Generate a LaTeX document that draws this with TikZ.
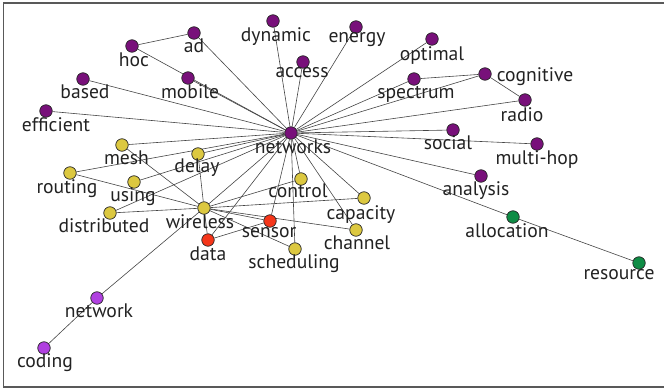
\documentclass[tikz,border=0pt]{standalone}
\usepackage{fontspec}
\setmainfont{PT Sans}
\usetikzlibrary{backgrounds}
\definecolor{cpur}{HTML}{78107A}
\definecolor{cyel}{HTML}{DCC840}
\definecolor{cred}{HTML}{F5361A}
\definecolor{cvio}{HTML}{B040E0}
\definecolor{cgrn}{HTML}{0F8C45}
\definecolor{cedge}{HTML}{444444}
\definecolor{ctext}{HTML}{222222}
\tikzset{
  vtx/.style={circle, draw=black!85, line width=0.7pt, minimum size=12.5pt, inner sep=0pt},
  pur/.style={vtx, fill=cpur},
  yel/.style={vtx, fill=cyel},
  red/.style={vtx, fill=cred},
  vio/.style={vtx, fill=cvio},
  grn/.style={vtx, fill=cgrn},
  lbl/.style={anchor=base, inner sep=0pt, text=ctext, font=\fontsize{19.6}{22}\selectfont},
  edge/.style={draw=cedge, line width=0.6pt},
}
\begin{document}
\begin{tikzpicture}[x=1pt, y=-1pt]
\useasboundingbox (0,0) rectangle (664,390);
\draw[gray!70!black, line width=1.2pt] (3.5,3) rectangle (666,387);

% vertices
\node[pur] (networks) at (291,133) {};
\node[pur] (dynamic) at (273,21) {};
\node[pur] (ad) at (194,33) {};
\node[pur] (hoc) at (132,46) {};
\node[pur] (access) at (303,62) {};
\node[pur] (based) at (83,79) {};
\node[pur] (mobile) at (188,78) {};
\node[pur] (efficient) at (46,111) {};
\node[pur] (energy) at (356,27) {};
\node[pur] (optimal) at (432,39) {};
\node[pur] (spectrum) at (414,79) {};
\node[pur] (cognitive) at (485,74) {};
\node[pur] (radio) at (525,100) {};
\node[pur] (social) at (453,130) {};
\node[pur] (multihop) at (537,144) {};
\node[pur] (analysis) at (481,176) {};

\node[yel] (mesh) at (122,145) {};
\node[yel] (delay) at (198,154) {};
\node[yel] (routing) at (70,173) {};
\node[yel] (using) at (134,182) {};
\node[yel] (control) at (301,179) {};
\node[yel] (distributed) at (110,213) {};
\node[yel] (wireless) at (204,208) {};
\node[yel] (capacity) at (364,198) {};
\node[yel] (channel) at (356,230) {};
\node[yel] (scheduling) at (295,249) {};

\node[red] (sensor) at (270,221) {};
\node[red] (data) at (208,240) {};

\node[vio] (network) at (97,298) {};
\node[vio] (coding) at (44,348) {};

\node[grn] (allocation) at (513,217) {};
\node[grn] (resource) at (639,263) {};

% connectors, behind the vertices
\begin{pgfonlayer}{background}
\foreach \v in {dynamic,ad,hoc,mobile,based,efficient,access,energy,optimal,
  spectrum,cognitive,radio,social,multihop,analysis,allocation,mesh,delay,
  routing,using,distributed,wireless,control,capacity,channel,scheduling,
  sensor,data}
  \draw[edge] (networks) -- (\v);
\foreach \v in {mesh,routing,delay,distributed,control,capacity,channel,
  scheduling,sensor,data,network}
  \draw[edge] (wireless) -- (\v);
\draw[edge] (ad) -- (hoc);
\draw[edge] (spectrum) -- (cognitive);
\draw[edge] (cognitive) -- (radio);
\draw[edge] (allocation) -- (resource);
\draw[edge] (data) -- (sensor);
\draw[edge] (network) -- (coding);
\end{pgfonlayer}

% word labels
\node[lbl] (l-networks) at (293,154) {networks};
\node[lbl] (l-dynamic) at (276,42) {dynamic};
\node[lbl] (l-ad) at (194,53) {ad};
\node[lbl] (l-hoc) at (134,67) {hoc};
\node[lbl] (l-access) at (302,78) {access};
\node[lbl] (l-based) at (85,99) {based};
\node[lbl] (l-mobile) at (190,99) {mobile};
\node[lbl] (l-efficient) at (56,132) {efficient};
\node[lbl] (l-energy) at (357,43) {energy};
\node[lbl] (l-optimal) at (432,61) {optimal};
\node[lbl] (l-spectrum) at (416,99) {spectrum};
\node[lbl] (l-cognitive) at (535,82) {cognitive};
\node[lbl] (l-radio) at (522,122) {radio};
\node[lbl] (l-social) at (448,150) {social};
\node[lbl] (l-multihop) at (537,165) {multi-hop};
\node[lbl] (l-analysis) at (476,196) {analysis};
\node[lbl] (l-mesh) at (126.5,165) {mesh};
\node[lbl] (l-delay) at (197,173) {delay};
\node[lbl] (l-routing) at (67,194) {routing};
\node[lbl] (l-using) at (133,202) {using};
\node[lbl] (l-control) at (298,198) {control};
\node[lbl] (l-distributed) at (104,233) {distributed};
\node[lbl] (l-wireless) at (200,229) {wireless};
\node[lbl] (l-capacity) at (361,220) {capacity};
\node[lbl] (l-channel) at (357,250) {channel};
\node[lbl] (l-scheduling) at (294,269) {scheduling};
\node[lbl] (l-sensor) at (269,237) {sensor};
\node[lbl] (l-data) at (208,260) {data};
\node[lbl] (l-network) at (99,317) {network};
\node[lbl] (l-coding) at (45,367) {coding};
\node[lbl] (l-allocation) at (507,237) {allocation};
\node[lbl] (l-resource) at (619,279) {resource};
\end{tikzpicture}
\end{document}
